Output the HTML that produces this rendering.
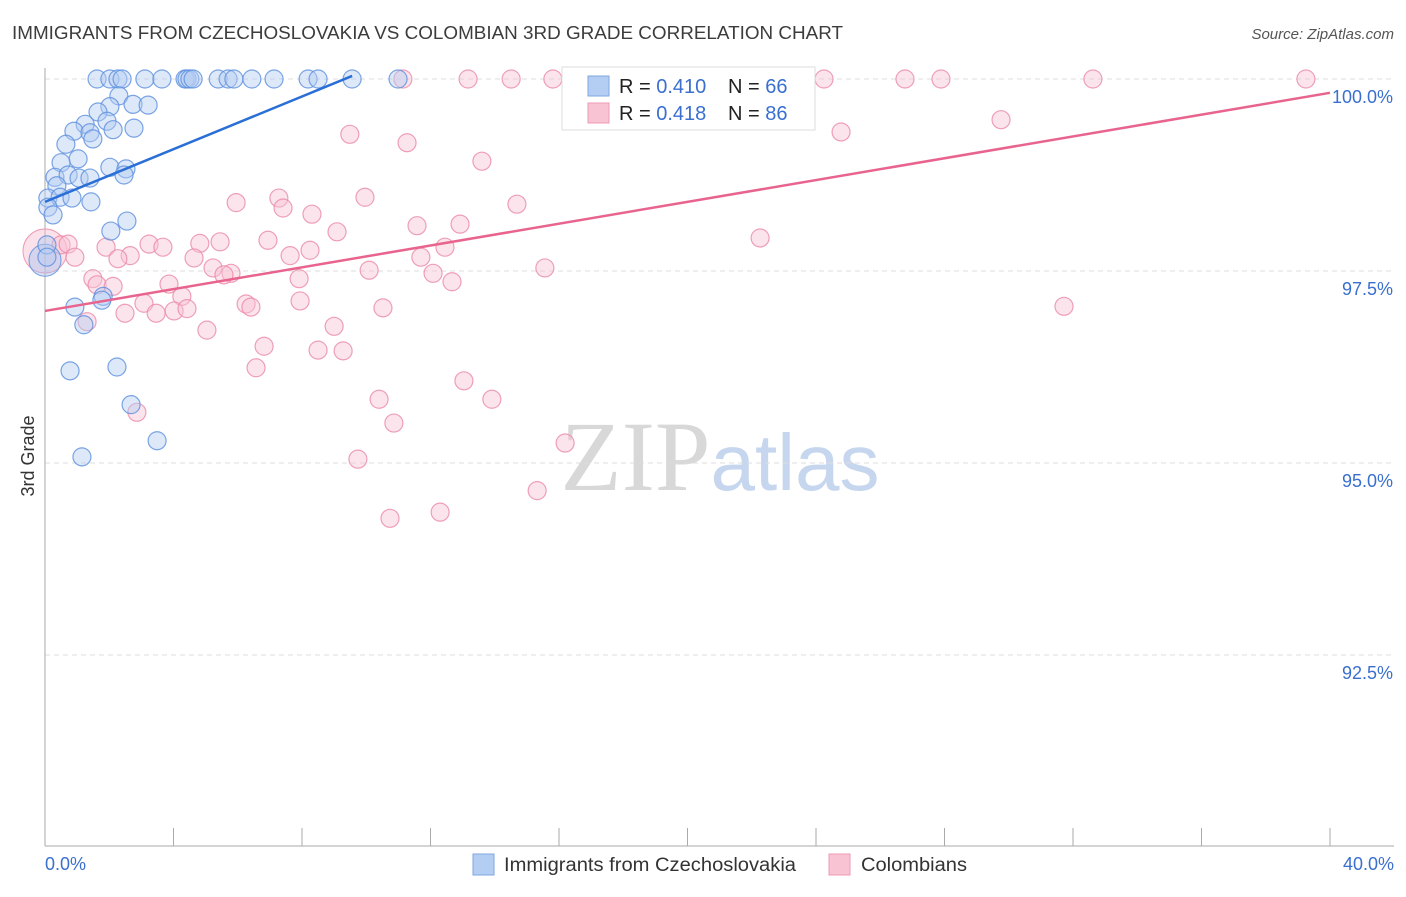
<!DOCTYPE html>
<html><head><meta charset="utf-8"><style>
body{margin:0;background:#fff;font-family:"Liberation Sans",sans-serif;}
svg text{font-family:"Liberation Sans",sans-serif;}
</style></head><body>
<svg id="chart" width="1406" height="892" viewBox="0 0 1406 892" xmlns="http://www.w3.org/2000/svg">
<text x="12" y="39" font-size="18" fill="#3c3c3c" textLength="831" lengthAdjust="spacingAndGlyphs">IMMIGRANTS FROM CZECHOSLOVAKIA VS COLOMBIAN 3RD GRADE CORRELATION CHART</text>
<text x="1394" y="39" font-size="15" fill="#555" text-anchor="end" font-style="italic">Source: ZipAtlas.com</text>
<text x="720" y="490" font-size="100" text-anchor="middle"><tspan fill="#d8d8d8" font-family="Liberation Serif">ZIP</tspan><tspan fill="#c5d6ee" font-size="80">atlas</tspan></text>
<text transform="translate(34,456) rotate(-90)" font-size="18" fill="#333" text-anchor="middle">3rd Grade</text>
<g id="grid"></g><g id="axes"></g><g id="pink"></g><g id="blue"></g><g id="lines"></g>
<g>
<rect x="562" y="67" width="253" height="63" fill="#fff" stroke="#ddd"/>
<rect x="588" y="76" width="21" height="20" fill="#b4cdf2" stroke="#7fa6e0"/>
<rect x="588" y="103" width="21" height="20" fill="#f8c4d4" stroke="#ee9ab4"/>
<text x="619" y="93" font-size="20" fill="#222">R = <tspan fill="#3a6fd0">0.410</tspan><tspan x="728">N = </tspan><tspan fill="#3a6fd0">66</tspan></text>
<text x="619" y="120" font-size="20" fill="#222">R = <tspan fill="#3a6fd0">0.418</tspan><tspan x="728">N = </tspan><tspan fill="#3a6fd0">86</tspan></text>
</g>
<g>
<rect x="473" y="854" width="21" height="21" fill="#b4cdf2" stroke="#7fa6e0"/>
<text x="504" y="871" font-size="19" fill="#333" textLength="292" lengthAdjust="spacingAndGlyphs">Immigrants from Czechoslovakia</text>
<rect x="829" y="854" width="21" height="21" fill="#f8c4d4" stroke="#ee9ab4"/>
<text x="861" y="871" font-size="19" fill="#333" textLength="106" lengthAdjust="spacingAndGlyphs">Colombians</text>
</g>
</svg>
<script>
const xTicks=[0,4,8,12,16,20,24,28,32,36,40];
const yTicks=[100,97.5,95,92.5];
const yTickLabels=["100.0%","97.5%","95.0%","92.5%"];
const blueX=[1.62,2.02,2.27,2.40,3.11,3.64,4.36,4.42,4.51,4.61,5.39,5.70,5.88,6.44,7.13,8.19,8.50,9.56,10.99,2.30,2.02,1.65,2.74,3.21,1.25,1.93,0.90,1.40,2.12,1.49,2.77,0.65,1.03,0.50,2.02,2.52,0.31,0.72,1.06,1.40,2.46,0.37,0.09,0.47,0.84,1.43,0.09,0.25,2.55,2.05,0.06,0.06,0.93,1.81,1.77,1.21,0.78,2.24,2.68,3.49,1.15];
const blueY=[100,100,100,100,100,100,100,100,100,100,100,100,100,100,100,100,100,100,100,99.78,99.64,99.57,99.67,99.66,99.41,99.45,99.32,99.30,99.34,99.22,99.36,99.15,98.96,98.91,98.85,98.83,98.72,98.75,98.71,98.71,98.75,98.61,98.45,98.46,98.45,98.40,98.33,98.23,98.15,98.02,97.84,97.68,97.03,97.17,97.12,96.80,96.20,96.25,95.76,95.29,95.08];
const pinkX=[11.14,13.17,14.51,15.81,18.18,20.36,24.25,26.77,27.89,32.62,39.25,9.49,11.27,13.60,24.78,29.76,9.96,7.28,5.95,7.41,8.31,14.69,12.92,11.58,9.09,22.26,1.90,3.24,3.67,4.82,5.45,6.94,8.25,7.63,12.45,11.70,2.65,2.27,4.64,0.50,0.72,0.93,15.56,10.09,12.08,12.67,5.23,5.79,5.57,1.49,1.62,2.12,3.86,4.26,7.91,7.94,3.08,3.46,4.02,4.42,2.49,6.26,6.41,10.52,31.72,1.31,5.04,9.00,6.82,8.50,9.28,6.57,13.04,10.40,13.91,2.86,10.86,16.19,9.74,15.32,12.30,10.74];
const pinkY=[100,100,100,100,100,100,100,100,100,100,100,99.28,99.17,98.93,99.31,99.47,98.46,98.45,98.39,98.32,98.24,98.37,98.11,98.09,98.01,97.93,97.81,97.85,97.81,97.86,97.88,97.90,97.77,97.70,97.81,97.68,97.70,97.66,97.67,97.84,97.85,97.68,97.54,97.51,97.47,97.36,97.54,97.47,97.45,97.40,97.32,97.30,97.33,97.17,97.40,97.11,97.08,96.95,96.98,97.01,96.95,97.07,97.03,97.02,97.04,96.84,96.73,96.78,96.52,96.47,96.46,96.24,96.07,95.83,95.83,95.66,95.52,95.26,95.05,94.64,94.36,94.28];
const blueTrend=[[0,98.40],[9.56,100.04]];
const pinkTrend=[[0,96.98],[40,99.82]];
const NS="http://www.w3.org/2000/svg";
const xs=v=>45+v*32.125;
const ys=v=>79+(100-v)*76.8;
function mk(tag,parent,attrs){const e=document.createElementNS(NS,tag);for(const k in attrs)e.setAttribute(k,attrs[k]);document.getElementById(parent).appendChild(e);return e;}
yTicks.forEach((t,i)=>{
 const l=mk('line','grid',{x1:45,x2:1394,y1:ys(t),y2:ys(t),stroke:'#ddd','stroke-dasharray':'5,4'});
 
 
 const tx=mk('text','grid',{x:1393,y:ys(t)+24,'font-size':18,fill:'#3a6fd0','text-anchor':'end'});
 tx.textContent=yTickLabels[i];
 
 
});
const ax=mk('line','axes',{x1:45,x2:45,y1:68,y2:846,stroke:'#aaa'});


const bx=mk('line','axes',{x1:45,x2:1394,y1:846,y2:846,stroke:'#aaa'});


xTicks.forEach(t=>{
 const l=mk('line','axes',{x1:xs(t),x2:xs(t),y1:828,y2:846,stroke:'#aaa'});
 
 
});
[[0,'0.0%','start',45],[40,'40.0%','end',1394]].forEach(a=>{
 const tx=mk('text','axes',{x:a[3],y:870,'font-size':18,fill:'#3a6fd0','text-anchor':a[2]});
 tx.textContent=a[1];
 
 
});
function dots(X,Y,g,fill,stroke,name){
 X.forEach((x,i)=>{
  const c=mk('circle',g,{cx:xs(x),cy:ys(Y[i]),r:9,fill:fill,'fill-opacity':0.45,stroke:stroke,'stroke-width':1.2,'stroke-opacity':0.8});
  
  
 });
}
const bp=mk('circle','pink',{cx:xs(0),cy:ys(97.76),r:22,fill:'#f5b3c8','fill-opacity':0.4,stroke:'#ee9ab4'});


dots(pinkX,pinkY,'pink','#f8c4d4','#ea8aa8','colombian-point');
const bb=mk('circle','blue',{cx:xs(0),cy:ys(97.64),r:16,fill:'#a9c5ef','fill-opacity':0.45,stroke:'#6f9ae0'});


dots(blueX,blueY,'blue','#b4cdf2','#5b8ede','czech-point');
const l1=mk('line','lines',{x1:xs(blueTrend[0][0]),y1:ys(blueTrend[0][1]),x2:xs(blueTrend[1][0]),y2:ys(blueTrend[1][1]),stroke:'#2a6fd6','stroke-width':2.5});


const l2=mk('line','lines',{x1:xs(pinkTrend[0][0]),y1:ys(pinkTrend[0][1]),x2:xs(pinkTrend[1][0]),y2:ys(pinkTrend[1][1]),stroke:'#e8648e','stroke-width':2.5});


</script>
</body></html>
